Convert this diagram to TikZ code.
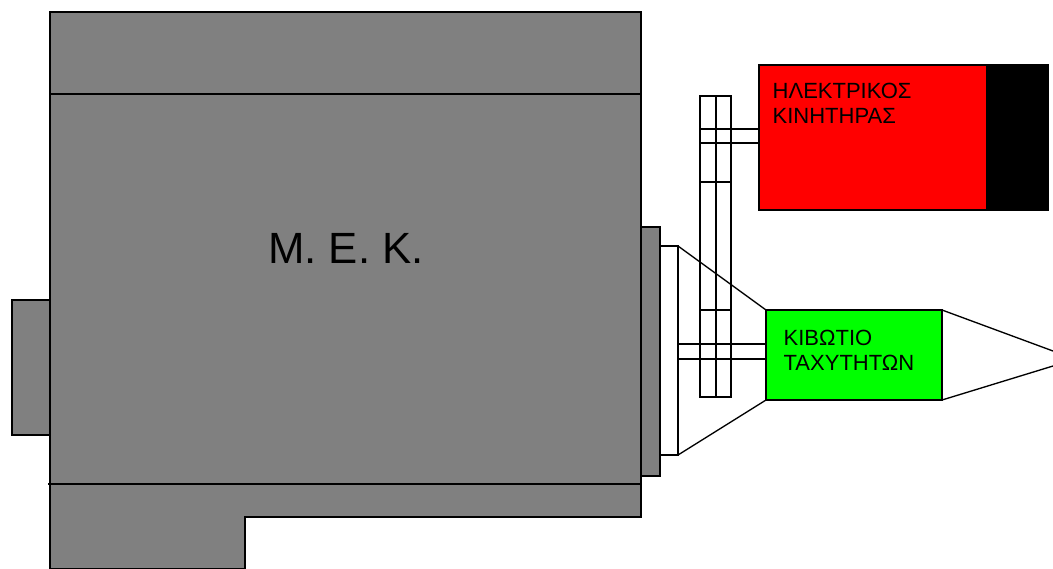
\documentclass[tikz,border=0pt]{standalone}
\usepackage{fontspec}
\setmainfont{Liberation Sans}
\definecolor{mekgray}{RGB}{128,128,128}
\definecolor{motorred}{RGB}{255,0,0}
\definecolor{boxgreen}{RGB}{0,255,0}
\tikzset{every picture/.style={line width=1pt}}
\tikzset{
  part/.style={draw=black,fill=mekgray},
  bigtext/.style={inner sep=0.75pt,font=\fontsize{32.8pt}{36pt}\selectfont},
  smalltext/.style={anchor=north west,inner sep=0.75pt,align=left,font=\fontsize{16.5pt}{18.75pt}\selectfont}
}
\begin{document}
\begin{tikzpicture}[x=0.75pt,y=0.75pt,yscale=-1,xscale=1]
\useasboundingbox (0,0) rectangle (1053,568);

%Shape: engine body
\draw [part] (50,12) -- (641,12) -- (641,517) -- (245,517) -- (245,569) -- (50,569) -- cycle ;
\draw (50,94) -- (641,94) ;
\draw (48,484) -- (641,484) ;
%Shape: rear block
\draw [part] (12,300) rectangle (50,435) ;
%Shape: flange
\draw [part] (641,227) rectangle (660,476) ;
\draw [fill=white] (660,246) rectangle (678,455) ;

%Straight Lines: clutch cone
\coordinate (coneA) at (678,246) ;
\coordinate (coneB) at (678,455) ;
\coordinate (boxA) at (766,310) ;
\coordinate (boxB) at (766,400) ;
\draw (coneA) -- (boxA) ;
\draw (coneB) -- (boxB) ;

%Shape: pulley
\draw (700,96) rectangle (731,397) ;
\draw (716,96) -- (716,397) ;
\foreach \y in {182,310} {
  \draw (700,\y) -- (731,\y) ;
}

%Straight Lines: motor shaft
\foreach \y in {129,143} {
  \draw (700,\y) -- (759,\y) ;
}
%Straight Lines: gearbox shaft
\foreach \y in {344,359} {
  \draw (678,\y) -- (766,\y) ;
}

%Shape: motor
\draw [fill=motorred] (759,65) rectangle (1048,210) ;
\draw [fill=black] (987,65) rectangle (1048,210) ;
%Shape: gearbox
\draw [fill=boxgreen] (766,310) rectangle (942,400) ;

%Straight Lines: output cone
\coordinate (outA) at (1053,351) ;
\coordinate (outB) at (1053,366) ;
\draw (942,310) -- (outA) ;
\draw (942,400) -- (outB) ;

% Text Node
\draw (346,248) node [bigtext] (mek) {Μ. Ε. Κ.};
% Text Node
\draw (771,81) node [smalltext] (motor) {ΗΛΕΚΤΡΙΚΟΣ\\ΚΙΝΗΤΗΡΑΣ};
% Text Node
\draw (782,328) node [smalltext] (gearbox) {ΚΙΒΩΤΙΟ\\ΤΑΧΥΤΗΤΩΝ};

\end{tikzpicture}
\end{document}
